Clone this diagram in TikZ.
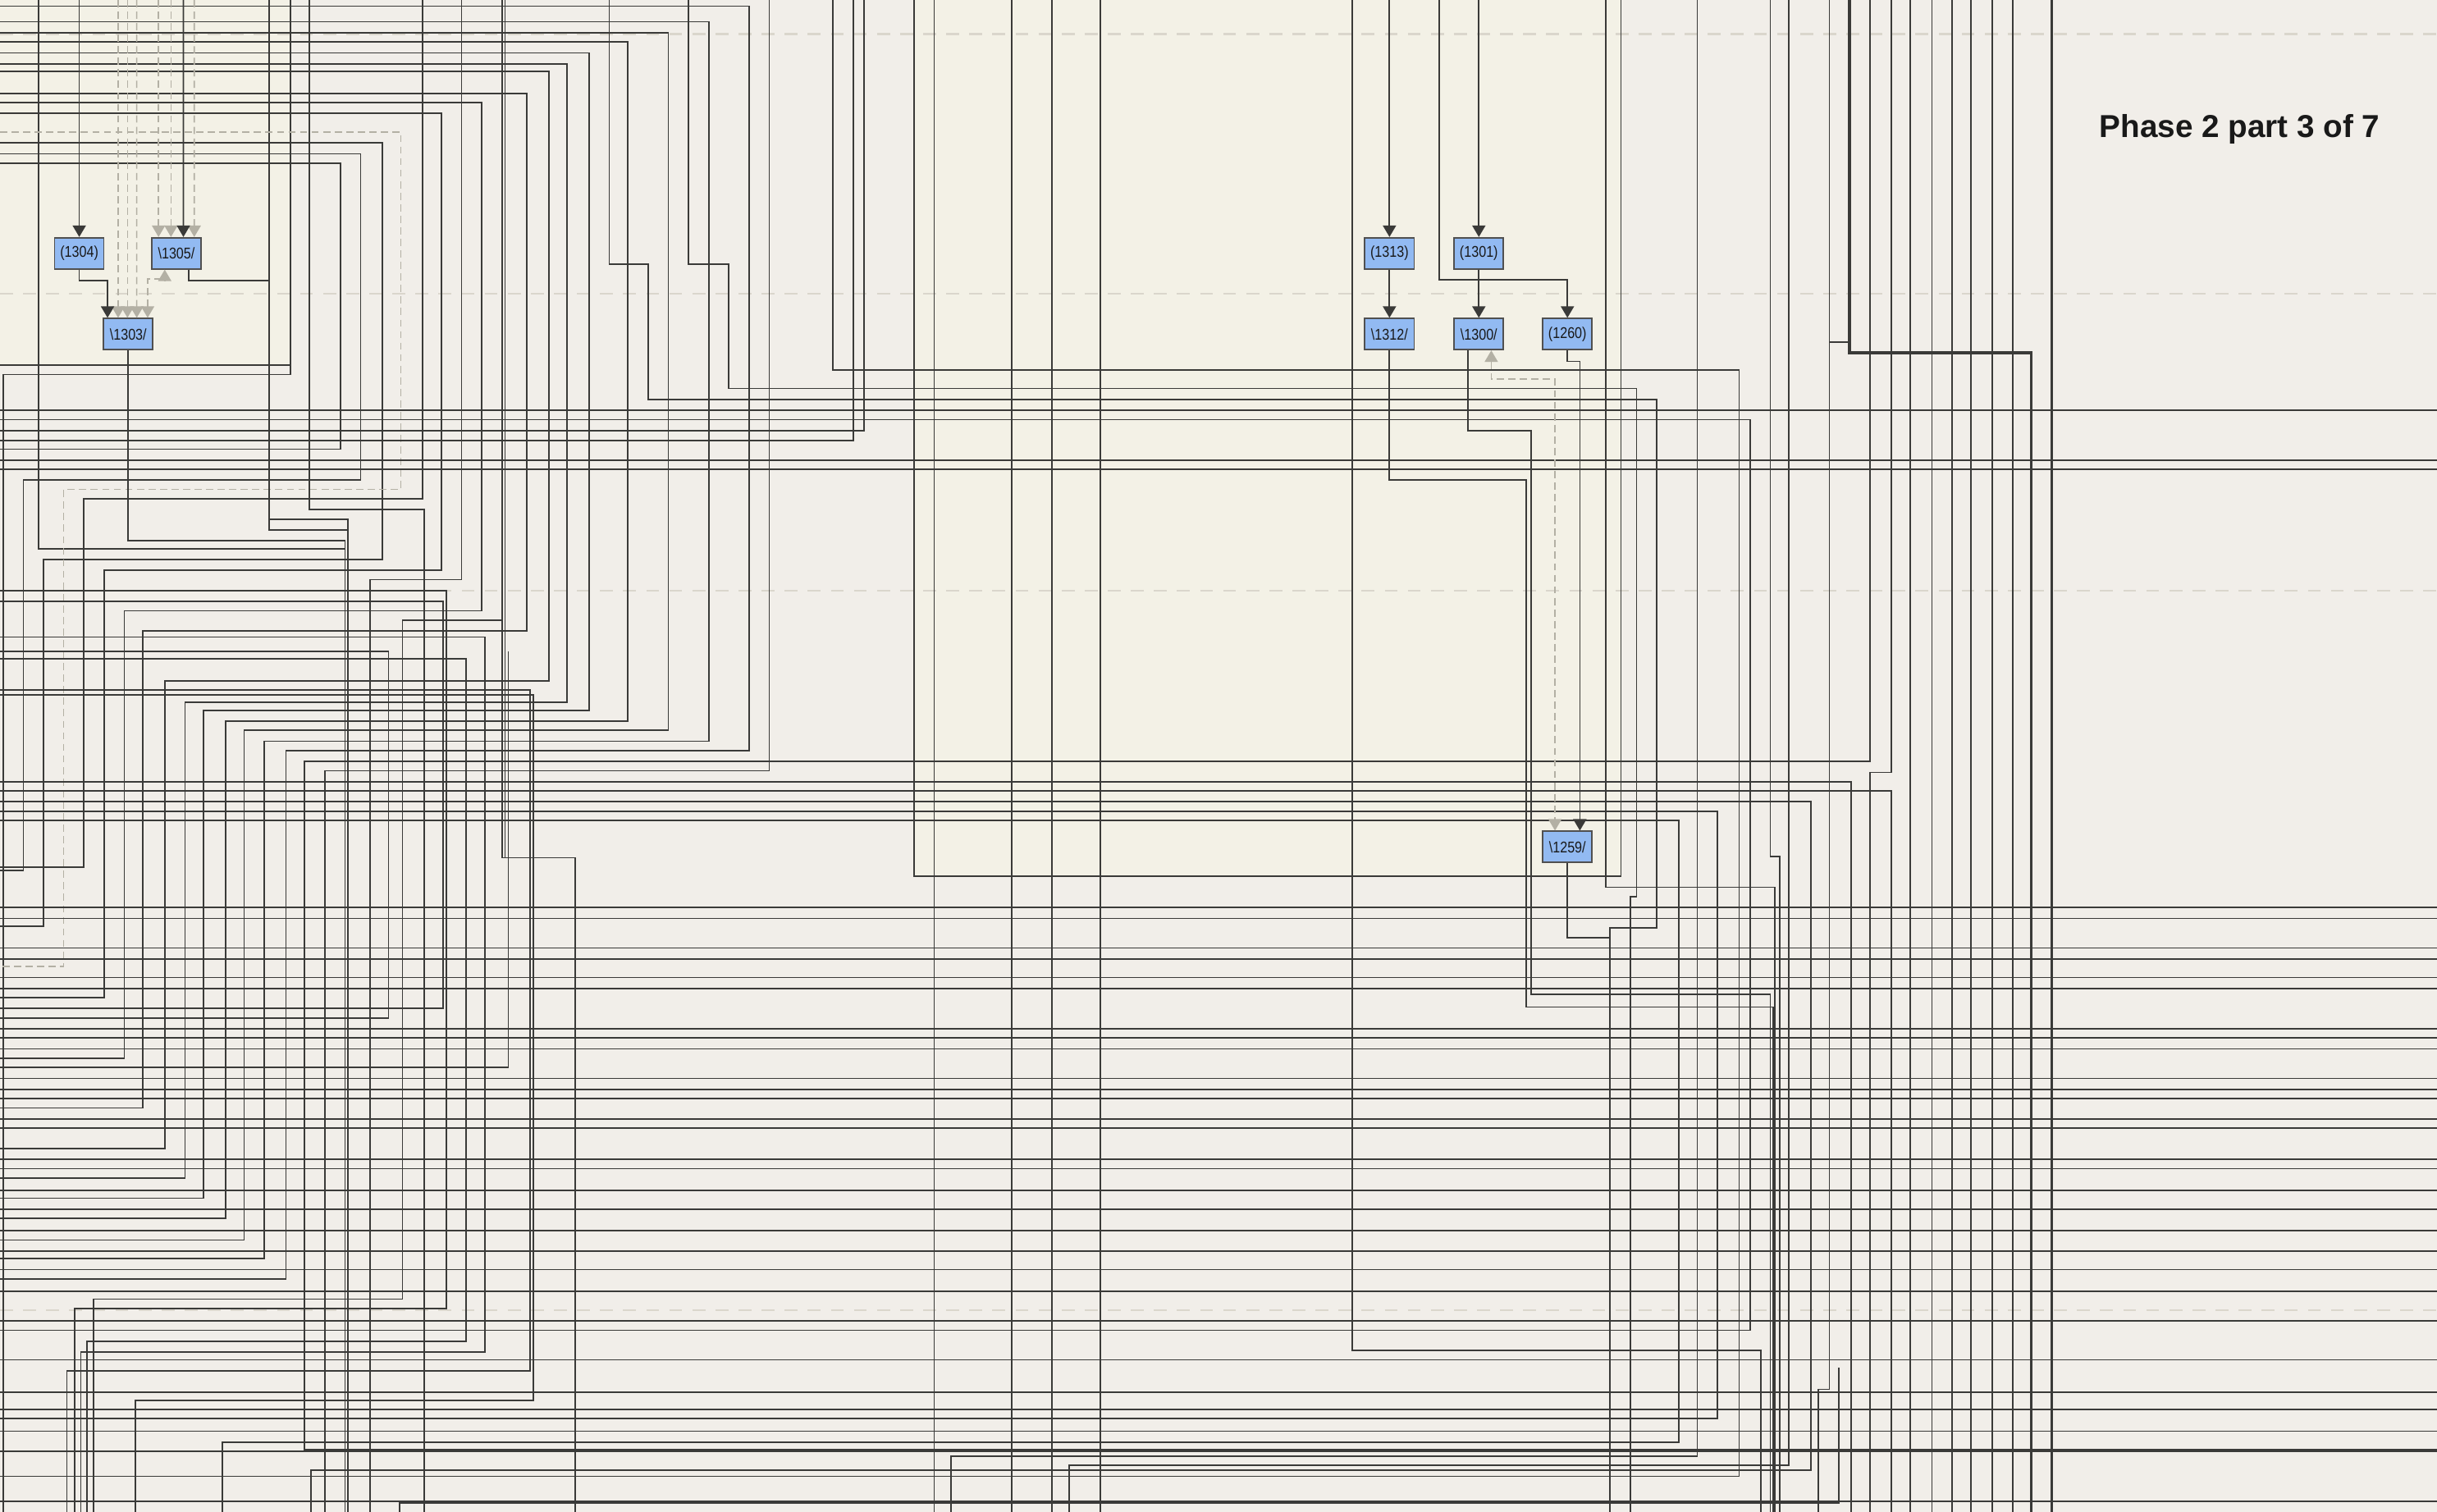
\documentclass[tikz,border=0pt]{standalone}
\usepackage{fontspec}
\setmainfont{Liberation Sans}
\newfontfamily\tasklabelfont[FakeStretch=0.85]{Liberation Sans}
\usetikzlibrary{arrows.meta,calc,positioning}
\definecolor{pagebg}{HTML}{F1EEE9}
\definecolor{lanebg}{HTML}{F3F1E6}
\definecolor{lanesepcol}{HTML}{DAD6CC}
\definecolor{taskfill}{HTML}{92BAF2}
\definecolor{taskdraw}{HTML}{505050}
\definecolor{hintgray}{HTML}{B3B0A4}
\definecolor{wirecol}{HTML}{3A3A38}
\tikzset{
  wire/.style={draw=wirecol, line width=0.5pt},
  heavywire/.style={wire, line width=0.9pt},
  flow/.style={wire, -{Triangle[width=0.16cm, length=0.14cm]}},
  hint/.style={draw=hintgray, line width=0.45pt, dash pattern=on 2.5pt off 1.5pt},
  hintflow/.style={hint, -{Triangle[width=0.16cm, length=0.14cm]}},
  hintboth/.style={hint, {Triangle[width=0.16cm, length=0.14cm]}-{Triangle[width=0.16cm, length=0.14cm]}},
  lanesep/.style={draw=lanesepcol, line width=0.7pt, dash pattern=on 4.5pt off 3.5pt},
  task/.style={draw=taskdraw, fill=taskfill, line width=0.5pt,
               minimum width=0.6cm, minimum height=0.38cm, inner sep=0pt,
               font=\tasklabelfont\fontsize{5.4}{6}\selectfont, text=black!90},
}

\begin{document}
\begin{tikzpicture}[x=0.01894cm, y=-0.01894cm]
  \useasboundingbox (0,0) rectangle (1568,973);
  % page and lanes
  \fill[pagebg] (0,0) rectangle (1568,973);
  \fill[lanebg] (0,0) rectangle (187,235);
  \fill[lanebg] (588,0) rectangle (1043,564);
  \foreach \y in {22,189,380,843}
    \draw[lanesep] (0,\y) -- (1568,\y);

  % tasks
  \node[task] (t1304) at (51,163) {(1304)};
  \node[task] (t1305) at (113.5,163) {\textbackslash 1305/};
  \node[task] (t1303) at (82.5,215) {\textbackslash 1303/};
  \node[task] (t1313) at (894,163) {(1313)};
  \node[task] (t1301) at (951.5,163) {(1301)};
  \node[task] (t1312) at (894,215) {\textbackslash 1312/};
  \node[task] (t1300) at (951.5,215) {\textbackslash 1300/};
  \node[task] (t1260) at (1008.5,215) {(1260)};
  \node[task] (t1259) at (1008.5,545) {\textbackslash 1259/};
  \node[font=\bfseries\fontsize{11}{12}\selectfont, text=black!90] (title) at (1441,83) {Phase 2 part 3 of 7};

  % wires passing through, left block
  \foreach \xa/\yh/\ya/\xb/\yb in {482/4/483/184/823, 456/14/477/170/810, 430/21/470/157/798,
      404/27/464/145/784, 379/34/457/131/771, 365/41/452/119/758, 353/46/438/106/739,
      339/60/406/92/713, 310/66/393/80/681, 284/73/367/67/642, 246/92/360/28/596}
    \draw[wire] (0,\yh) -| (\xa,\ya) -| (\xb,\yb) -- (0,\yb);
  \draw[wire] (495,0) |- (209,496) -- (209,973);
  \draw[wire] (0,99) -| (232,309) -| (15,560) -- (0,560);
  \draw[wire] (0,105) -| (219,289) -- (0,289);
  \draw[wire] (272,0) |- (54,321) -- (54,558) -- (0,558);
  \draw[wire] (297,0) |- (238,373) -- (238,973);
  \draw[wire] (199,0) |- (273,328) -- (273,973);
  \draw[wire] (25,0) |- (222,353) -- (222,973);
  \draw[wire] (173,0) |- (224,334) -- (224,973);
  \draw[wire] (187,0) |- (0,235);
  \draw[wire] (187,235) -- (187,241) -| (2,973);
  \draw[hint] (0,85) -| (258,315) -| (41,622) -- (0,622);
  \draw[wire] (323,0) |- (370,552) -- (370,973);
  \draw[wire] (325,0) -- (325,552);
  \draw[wire] (0,444) -| (341,882) -| (43,973);
  \draw[wire] (0,447) -| (343,901) -| (87,973);
  \draw[wire] (323,399) -| (259,836) -| (60,973);
  \draw[wire] (0,380) -| (287,842) -| (48,973);
  \draw[wire] (0,424) -| (300,863) -| (56,973);
  \draw[wire] (0,410) -| (312,870) -| (52,973);
  \draw[wire] (0,419) -| (250,655) -- (0,655);
  \draw[wire] (327,419) |- (0,687);
  \draw[wire] (0,387) -| (285,649) -- (0,649);
  \draw[wire] (257,973) |- (1183,967) -- (1183,880);

  % wires passing through, middle block
  \draw[wire] (392,0) |- (417,170) |- (1066,257) |- (1036,597) -- (1036,973);
  \draw[wire] (443,0) |- (469,170) |- (1053,250) |- (1049,577) -- (1049,973);
  \draw[wire] (536,0) |- (1119,238) |- (0,950);
  \draw[wire] (549,0) |- (0,283.5);
  \draw[wire] (556,0) |- (0,277);
  \draw[wire] (588,0) |- (1043,564) -- (1043,0);
  \foreach \x in {601,651,677,708}
    \draw[wire] (\x,0) -- (\x,973);
  \draw[wire] (870,0) |- (1133,869) -- (1133,973);
  \draw[wire] (0,270) -| (1126,856) -- (0,856);
  \foreach \y in {264,296,302}
    \draw[wire] (0,\y) -- (1568,\y);

  % wires passing through, right block
  \foreach \x in {1229,1243,1256,1268,1282,1295}
    \draw[wire] (\x,0) -- (\x,973);
  \draw[heavywire] (1320,0) -- (1320,973);
  \draw[wire] (1092,0) |- (612,937) -- (612,973);
  \draw[wire] (1139,0) |- (1145,551) -- (1145,973);
  \draw[wire] (1151,0) |- (688,943) -- (688,973);
  \draw[wire] (1177,0) -- (1177,220) -- (1190,220);
  \draw[wire] (1177,220) |- (1170,894) -- (1170,973);
  \draw[heavywire] (1190,0) |- (1307,227) -- (1307,973);
  \draw[wire] (1203,0) |- (196,490) |- (1568,933);
  \draw[wire] (1217,0) |- (1203,497) -- (1203,973);
  \draw[wire] (1033,0) |- (1142,571) -- (1142,973);
  \draw[wire] (0,503) -| (1191,973);
  \draw[wire] (0,509) -| (1217,973);
  \draw[wire] (0,515.6) -| (1165,946) -| (200,973);
  \draw[wire] (0,522) -| (1105,913) -- (0,913);
  \draw[wire] (0,528) -| (1080,928) -| (143,973);

  % wires across the lower half
  \foreach \y in {584,591,610,617,629,636,662,668,675,694,701,707,720,726,746,752,766,
                  778,792,805,817,831,850,875,896,907,921,934,966}
    \draw[wire] (0,\y) -- (1568,\y);

  % connectors of the tasks
  \coordinate (in1304) at (51,0);
  \coordinate (in1305) at (118,0);
  \coordinate (in1313) at (894,0);
  \coordinate (in1301) at (951.5,0);
  \coordinate (in1260) at (926,0);
  \foreach \dx in {-6.5,-0.5,5.5}
    \draw[hintflow] (82.5+\dx,0) -- ($(t1303.north)+(\dx,0)$);
  \foreach \dx in {-11.5,-3.5,11.5}
    \draw[hintflow] (113.5+\dx,0) -- ($(t1305.north)+(\dx,0)$);
  \draw[hintboth] ($(t1303.north)+(12.5,0)$) -- ++(0,-25) -| ($(t1305.south)+(-7.5,0)$);
  \draw[flow] (in1304) -- (t1304);
  \draw[flow] (in1305) -- ($(t1305.north)+(4.5,0)$);
  \draw[flow] (t1304.south) -- ++(0,7) -| ($(t1303.north west)+(3,0)$);
  \draw[wire] ($(t1305.south)+(8,0)$) -- ++(0,7) -| (173,341) -| (224,973);
  \draw[wire] (t1303.south) |- (222,348) -- (222,973);

  \draw[flow] (in1313) -- (t1313);
  \draw[flow] (t1313) -- (t1312);
  \draw[flow] (in1301) -- (t1301);
  \draw[flow] (t1301) -- (t1300);
  \draw[flow] (in1260) -- (926,180) -| (t1260.north);
  \draw[flow] (t1260.south) -- ++(0,7) -| ($(t1259.north)+(8,0)$);
  \draw[hintboth] ($(t1300.south)+(8,0)$) |- (1000.5,244) -- ($(t1259.north)+(-8,0)$);
  \draw[wire] (t1312.south) |- (982,309) |- (1141,648) -- (1141,973);
  \draw[wire] ($(t1300.south)+(-7,0)$) |- (985,277) |- (1139,640) -- (1139,973);
  \draw[wire] (t1259.south) -- ++(0,48) -| (1036,973);
\end{tikzpicture}
\end{document}
